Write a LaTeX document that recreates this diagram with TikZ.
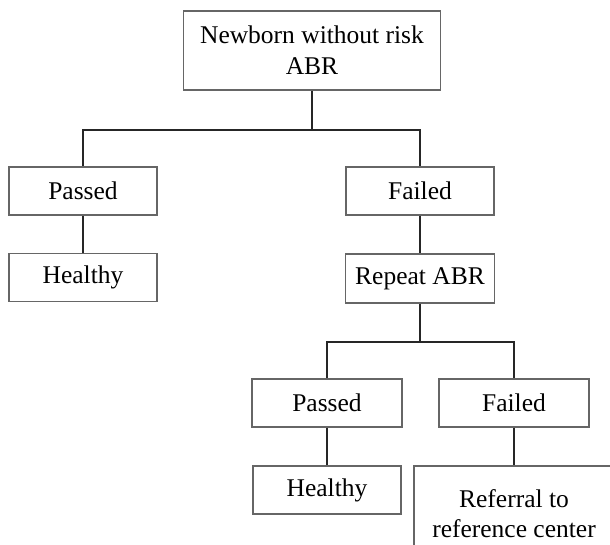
\documentclass[tikz,border=0pt]{standalone}
\usepackage{fontspec}
\setmainfont{Liberation Serif}
\usepackage{tikz}
\usetikzlibrary{positioning}

\begin{document}
\begin{tikzpicture}[x=1pt,y=1pt,
    font=\fontsize{25.5}{31}\selectfont,
    box/.style={draw=black!60,line width=1.1pt,minimum width=148pt,minimum height=48pt,inner sep=0pt,align=center},
    link/.style={line width=1.8pt,color=black!85}]

    \useasboundingbox (0,0) rectangle (610,-545);
    \clip (0,0) rectangle (610,-545);

    %nodes

    \node [box,minimum width=257pt,minimum height=79pt] (newborn) at (312,-50.5) {Newborn without risk\\ABR};
    \coordinate (split) at (312,-130);
    \draw [link] (newborn) -- (split);

        \node [box] (passed) at (83,-191) {Passed};
        \draw [link] (split) -| (passed);

        \node [box] (healthy) at (83,-277.5) {Healthy};
        \draw [link] (passed) -- (healthy);

        \node [box] (failed) at (420,-191) {Failed};
        \draw [link] (split) -| (failed);

        \node [box,minimum width=149pt,minimum height=49pt] (repeat) at (420,-278.5) {Repeat ABR};
        \draw [link] (failed) -- (repeat);

        \coordinate (resplit) at (420,-342);
        \draw [link] (repeat) -- (resplit);

            \node [box,minimum width=150pt] (repassed) at (327,-403) {Passed};
            \draw [link] (resplit) -| (repassed);

            \node [box,minimum width=150pt] (refailed) at (514,-403) {Failed};
            \draw [link] (resplit) -| (refailed);

            \node [box] (rehealthy) at (327,-490) {Healthy};
            \draw [link] (repassed) -- (rehealthy);

            \node [box,minimum width=200pt,minimum height=96pt,font=\fontsize{25.5}{30}\selectfont] (referral) at (514,-514) {Referral to\\reference center};
            \draw [link] (refailed) -- (referral);
\end{tikzpicture}
\end{document}
